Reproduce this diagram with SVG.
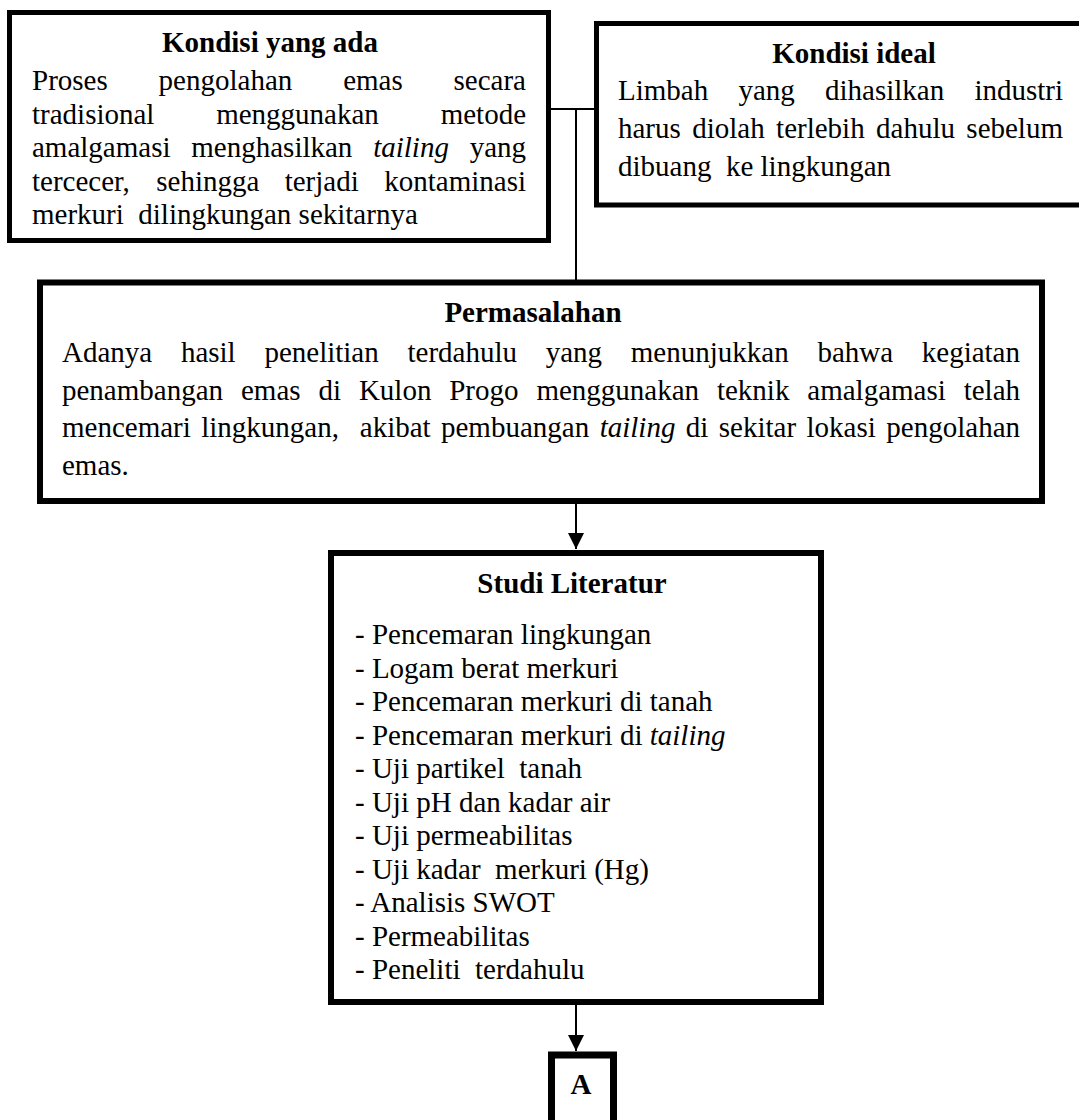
<svg xmlns="http://www.w3.org/2000/svg" width="1079" height="1120" viewBox="0 0 1079 1120">
  <style>
    .box { fill: #ffffff; stroke: #000000; }
    .t { font-family: "Liberation Serif", "Times New Roman", serif; font-size: 29px; fill: #000000; }
    .b { font-weight: bold; }
    .i { font-style: italic; }
    .end { text-anchor: end; }
    .mid { text-anchor: middle; }
    .wire { stroke: #000000; stroke-width: 2; fill: none; }
  </style>
  <defs>
    <marker id="arrow" markerUnits="userSpaceOnUse" markerWidth="16" markerHeight="16" refX="16" refY="8" orient="auto">
      <path d="M0,0 L16,8 L0,16 z" fill="#000000"/>
    </marker>
  </defs>

  <rect width="1079" height="1120" fill="#ffffff"/>

  <!-- connectors -->
  <g id="connectors">
    <line class="wire" x1="551" y1="109" x2="594" y2="109"/>
    <line class="wire" x1="576" y1="109" x2="576" y2="281"/>
    <line class="wire" x1="576" y1="504" x2="576" y2="549" marker-end="url(#arrow)"/>
    <line class="wire" x1="576" y1="1005" x2="576" y2="1051" marker-end="url(#arrow)"/>
  </g>

  <!-- existing condition (justified lines: words placed individually) -->
  <g id="kondisi-ada">
    <rect class="box" x="9.5" y="12.5" width="539" height="228" stroke-width="5"/>
    <text class="t b mid" x="270" y="52">Kondisi yang ada</text>
    <text class="t" y="90"><tspan x="32">Proses</tspan><tspan x="158.6">pengolahan</tspan><tspan x="343.2">emas</tspan><tspan class="end" x="526">secara</tspan></text>
    <text class="t" y="123.5"><tspan x="32">tradisional</tspan><tspan x="216.2">menggunakan</tspan><tspan class="end" x="526">metode</tspan></text>
    <text class="t" y="157"><tspan x="32">amalgamasi</tspan><tspan x="191.3">menghasilkan</tspan><tspan class="i" x="373.2">tailing</tspan><tspan class="end" x="526">yang</tspan></text>
    <text class="t" y="190.5"><tspan x="32">tercecer,</tspan><tspan x="156.3">sehingga</tspan><tspan x="284.7">terjadi</tspan><tspan class="end" x="526">kontaminasi</tspan></text>
    <text class="t" x="32" y="224" xml:space="preserve">merkuri  dilingkungan sekitarnya</text>
  </g>

  <!-- ideal condition -->
  <g id="kondisi-ideal">
    <rect class="box" x="596.5" y="23.5" width="520" height="181.5" stroke-width="5"/>
    <text class="t b mid" x="854" y="63">Kondisi ideal</text>
    <text class="t" y="100"><tspan x="618">Limbah</tspan><tspan x="738.4">yang</tspan><tspan x="825">dihasilkan</tspan><tspan class="end" x="1063">industri</tspan></text>
    <text class="t" y="138"><tspan x="618">harus</tspan><tspan x="692.2">diolah</tspan><tspan x="776.1">terlebih</tspan><tspan x="876.1">dahulu</tspan><tspan class="end" x="1063">sebelum</tspan></text>
    <text class="t" x="618" y="176" xml:space="preserve">dibuang  ke lingkungan</text>
  </g>

  <!-- problem statement -->
  <g id="permasalahan">
    <rect class="box" x="40" y="282.5" width="1002" height="218.5" stroke-width="6"/>
    <text class="t b mid" x="533" y="322">Permasalahan</text>
    <text class="t" y="362"><tspan x="62">Adanya</tspan><tspan x="180.9">hasil</tspan><tspan x="264.4">penelitian</tspan><tspan x="407.5">terdahulu</tspan><tspan x="545.7">yang</tspan><tspan x="630.8">menunjukkan</tspan><tspan x="817.4">bahwa</tspan><tspan class="end" x="1020">kegiatan</tspan></text>
    <text class="t" y="399.5"><tspan x="62">penambangan</tspan><tspan x="241">emas</tspan><tspan x="318.4">di</tspan><tspan x="358.9">Kulon</tspan><tspan x="449.2">Progo</tspan><tspan x="536.4">menggunakan</tspan><tspan x="716.9">teknik</tspan><tspan x="807.3">amalgamasi</tspan><tspan class="end" x="1020">telah</tspan></text>
    <text class="t" y="437"><tspan x="62">mencemari</tspan><tspan x="201.2">lingkungan,</tspan><tspan x="359.8">akibat</tspan><tspan x="441">pembuangan</tspan><tspan class="i" x="599.7">tailing</tspan><tspan x="685.8">di</tspan><tspan x="718.8">sekitar</tspan><tspan x="806.5">lokasi</tspan><tspan class="end" x="1020">pengolahan</tspan></text>
    <text class="t" x="62" y="475">emas.</text>
  </g>

  <!-- literature study -->
  <g id="studi-literatur">
    <rect class="box" x="331" y="553" width="490" height="449" stroke-width="6"/>
    <text class="t b mid" x="572" y="593">Studi Literatur</text>
    <text class="t" x="355" y="644">- Pencemaran lingkungan</text>
    <text class="t" x="355" y="677.5">- Logam berat merkuri</text>
    <text class="t" x="355" y="711">- Pencemaran merkuri di tanah</text>
    <text class="t" x="355" y="744.5">- Pencemaran merkuri di <tspan class="i">tailing</tspan></text>
    <text class="t" x="355" y="778" xml:space="preserve">- Uji partikel  tanah</text>
    <text class="t" x="355" y="811.5">- Uji pH dan kadar air</text>
    <text class="t" x="355" y="845">- Uji permeabilitas</text>
    <text class="t" x="355" y="878.5" xml:space="preserve">- Uji kadar  merkuri (Hg)</text>
    <text class="t" x="355" y="912">- Analisis SWOT</text>
    <text class="t" x="355" y="945.5">- Permeabilitas</text>
    <text class="t" x="355" y="979" xml:space="preserve">- Peneliti  terdahulu</text>
  </g>

  <!-- continuation connector -->
  <g id="connector-a">
    <rect class="box" x="551.5" y="1055" width="62" height="80" stroke-width="7"/>
    <text class="t b mid" x="581" y="1094">A</text>
  </g>
</svg>
